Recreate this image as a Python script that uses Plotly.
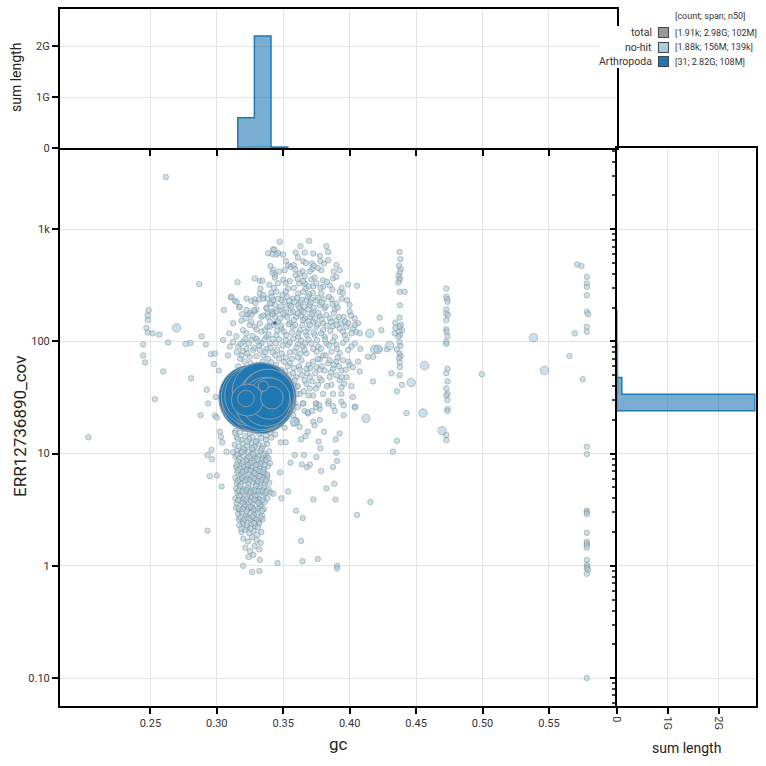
import plotly.graph_objects as go

W = H = 766
def PX(x): return x / W
def PY(y): return 1 - y / H

# ---------------- data ----------------
# no-hit contigs (gc, coverage)
nohit_left = [
    (0.2034, 14), (0.2617, 2917), (0.2867, 324), (0.3156, 337), (0.2487, 190), (0.2480, 170),
    (0.2480, 155), (0.2470, 132), (0.2480, 120), (0.2517, 118), (0.2567, 115), (0.2446, 94),
    (0.2446, 75), (0.2460, 65), (0.2634, 98), (0.2767, 95), (0.2803, 97), (0.2885, 111),
    (0.2918, 94), (0.2955, 77), (0.2978, 63), (0.3015, 55), (0.2597, 54), (0.2807, 47),
    (0.2925, 37), (0.3053, 191), (0.3106, 247), (0.2534, 30.6), (0.2993, 32), (0.2935, 28),
]
nohit_near = [
    (0.3324, 347), (0.3110, 250), (0.3136, 230), (0.3223, 241), (0.3261, 230), (0.3324, 267),
    (0.3379, 241), (0.3168, 203), (0.3236, 175), (0.3248, 180), (0.3286, 184), (0.3374, 200),
    (0.3336, 166), (0.3381, 177), (0.3123, 145), (0.3186, 153), (0.3198, 126), (0.3093, 118),
    (0.3148, 111), (0.3223, 118), (0.3248, 140), (0.3286, 135), (0.3324, 145), (0.3361, 126),
    (0.3261, 103), (0.3298, 106), (0.3336, 96), (0.3374, 110), (0.3198, 99), (0.3123, 99),
    (0.3161, 90), (0.3223, 86), (0.3273, 84), (0.3324, 84), (0.3374, 86), (0.3085, 75),
    (0.3186, 75), (0.3248, 73), (0.3298, 74), (0.3349, 75), (0.3386, 70), (0.3399, 96),
    (0.3098, 90), (0.3048, 103), (0.2985, 78),
    (0.3286, 364), (0.3344, 347), (0.3329, 297), (0.3149, 225), (0.3173, 203), (0.3224, 191),
    (0.3261, 172), (0.3299, 193), (0.3286, 237), (0.3319, 237), (0.3349, 241), (0.3374, 197),
    (0.3412, 218), (0.3424, 184), (0.3386, 166), (0.3437, 390), (0.3424, 434), (0.3404, 470),
    (0.3424, 659), (0.3386, 610), (0.3420, 600), (0.3462, 615),
    (0.3150, 80), (0.3175, 70), (0.3195, 82), (0.3210, 66), (0.3230, 78), (0.3255, 64),
    (0.3280, 88), (0.3300, 62), (0.3320, 92), (0.3345, 66), (0.3365, 80), (0.3385, 60),
    (0.3180, 95), (0.3215, 105), (0.3240, 96), (0.3270, 112), (0.3310, 100), (0.3335, 122),
    (0.3360, 104), (0.3390, 115), (0.3160, 60), (0.3400, 150), (0.3380, 135), (0.3300, 128),
    (0.3260, 150), (0.3220, 160), (0.3350, 170), (0.3280, 190), (0.3190, 175), (0.3415, 185),
    (0.3425, 235), (0.3410, 270), (0.3430, 300), (0.3395, 320), (0.3350, 260), (0.3290, 220),
]
nohit_cloud = [
    (0.3474, 771), (0.3695, 787), (0.3630, 705), (0.3825, 705), (0.3432, 659), (0.3594, 620),
    (0.3662, 620), (0.3725, 607), (0.3775, 578), (0.3838, 628), (0.3449, 594), (0.3499, 594),
    (0.3650, 518), (0.3670, 501), (0.3717, 494), (0.3730, 471), (0.3717, 440), (0.3807, 494),
    (0.3838, 529), (0.3537, 478), (0.3557, 462), (0.3579, 478), (0.3925, 431), (0.3419, 408),
    (0.3512, 431), (0.3645, 422), (0.3787, 431),
    (0.3594, 389), (0.3625, 403), (0.3662, 381), (0.3712, 356), (0.3737, 371), (0.3800, 351),
    (0.3875, 364), (0.3900, 376), (0.3437, 371), (0.3519, 333), (0.3620, 328), (0.3662, 328),
    (0.3725, 310), (0.3670, 296), (0.3800, 306), (0.3850, 317), (0.3988, 322), (0.4056, 313),
    (0.3537, 296),
    (0.3449, 277), (0.3519, 277), (0.3612, 267), (0.3650, 277), (0.3695, 264), (0.3725, 271),
    (0.3787, 267), (0.3925, 277), (0.3950, 271), (0.3487, 233), (0.3574, 241), (0.3630, 225),
    (0.3675, 233), (0.3712, 238), (0.3750, 233), (0.3805, 237), (0.3863, 238), (0.3980, 233),
    (0.3549, 211), (0.3612, 211), (0.3700, 211), (0.3775, 211), (0.3900, 218), (0.4000, 211),
    (0.3399, 218), (0.3474, 190), (0.3524, 197), (0.3574, 184), (0.3637, 190), (0.3687, 193),
    (0.3725, 184), (0.3812, 197), (0.3888, 193), (0.4000, 184), (0.3437, 166), (0.3512, 172),
    (0.3599, 166), (0.3662, 160), (0.3700, 166), (0.3775, 168), (0.3850, 160), (0.3900, 155),
    (0.3955, 166), (0.4038, 160), (0.3462, 150), (0.3549, 147), (0.3650, 155), (0.3725, 150),
    (0.3800, 145), (0.3938, 145), (0.4063, 145),
    (0.3399, 135), (0.3487, 130), (0.3574, 135), (0.3625, 126), (0.3687, 130), (0.3750, 135),
    (0.3800, 126), (0.3875, 137), (0.3925, 130), (0.3975, 135), (0.4025, 130), (0.4051, 122),
    (0.3449, 114), (0.3524, 114), (0.3612, 110), (0.3675, 114), (0.3737, 114), (0.3812, 110),
    (0.3888, 110), (0.3963, 114), (0.4013, 118), (0.4076, 118),
    (0.3537, 93), (0.3612, 95), (0.3650, 90), (0.3712, 96), (0.3762, 90), (0.3825, 96),
    (0.3900, 93), (0.3950, 97), (0.4013, 90), (0.3587, 81), (0.3675, 78), (0.3750, 81),
    (0.3800, 75), (0.3863, 81), (0.3925, 78), (0.3988, 84), (0.4138, 73),
    (0.3549, 64), (0.3637, 68), (0.3725, 66), (0.3775, 69), (0.3838, 64), (0.3900, 66),
    (0.3950, 68), (0.4000, 62), (0.3675, 57), (0.3750, 59), (0.3812, 55), (0.3875, 57),
    (0.3938, 55), (0.4076, 54), (0.4063, 66), (0.4025, 59), (0.4176, 73),
    (0.3599, 48), (0.3700, 48), (0.3775, 47), (0.3850, 48), (0.3925, 45), (0.3975, 48),
    (0.3675, 42), (0.3762, 41), (0.3863, 41), (0.3938, 39), (0.4013, 40), (0.4176, 44),
    (0.3625, 34), (0.3725, 33), (0.3800, 34), (0.3875, 34), (0.3938, 34), (0.4025, 32),
    (0.3650, 28), (0.3750, 28), (0.3838, 28), (0.3938, 29), (0.3662, 24), (0.3775, 25),
    (0.3888, 24), (0.4038, 26),
    (0.3405, 88), (0.3420, 80), (0.3440, 75), (0.3455, 84), (0.3470, 70), (0.3490, 78),
    (0.3505, 66), (0.3520, 72), (0.3535, 60), (0.3550, 80), (0.3565, 70), (0.3580, 58),
    (0.3410, 65), (0.3425, 58), (0.3445, 62), (0.3460, 52), (0.3480, 56), (0.3500, 48),
    (0.3515, 54), (0.3530, 46), (0.3545, 50), (0.3560, 44), (0.3575, 52), (0.3590, 40),
    (0.3485, 42), (0.3505, 38), (0.3520, 35), (0.3540, 36), (0.3555, 32), (0.3570, 30),
    (0.3585, 28), (0.3600, 34), (0.3610, 26), (0.3530, 27), (0.3550, 24), (0.3575, 22),
    (0.3595, 20), (0.3620, 60), (0.3640, 50), (0.3660, 45), (0.3680, 52), (0.3700, 38),
    (0.3720, 44), (0.3610, 72), (0.3630, 78), (0.3660, 84), (0.3690, 62), (0.3740, 52),
    (0.3760, 70), (0.3790, 60), (0.3820, 75), (0.3850, 68), (0.3880, 62), (0.3910, 72),
    (0.3940, 48), (0.3970, 56),
    (0.3574, 24.4), (0.3604, 19.2), (0.3649, 28), (0.3687, 22.8), (0.3750, 26), (0.3725, 19.2),
    (0.3624, 17.3), (0.3775, 19.9), (0.3599, 39), (0.3587, 45),
]
nohit_cloud_dense = [
    (0.3415, 250), (0.3440, 210), (0.3460, 240), (0.3480, 205), (0.3495, 260), (0.3510, 225),
    (0.3530, 250), (0.3545, 230), (0.3560, 205), (0.3585, 225), (0.3605, 245), (0.3620, 200),
    (0.3640, 235), (0.3660, 205), (0.3685, 250), (0.3705, 222), (0.3730, 200), (0.3760, 245),
    (0.3790, 222), (0.3820, 205), (0.3845, 250), (0.3870, 215), (0.3910, 200), (0.3940, 240),
    (0.3420, 175), (0.3450, 185), (0.3475, 160), (0.3500, 178), (0.3530, 165), (0.3555, 180),
    (0.3580, 155), (0.3610, 178), (0.3635, 170), (0.3655, 182), (0.3690, 150), (0.3715, 175),
    (0.3740, 160), (0.3765, 180), (0.3790, 158), (0.3825, 172), (0.3860, 150), (0.3880, 178),
    (0.3920, 165), (0.3965, 150), (0.4010, 170),
    (0.3430, 140), (0.3455, 125), (0.3480, 138), (0.3505, 122), (0.3540, 142), (0.3565, 120),
    (0.3590, 140), (0.3615, 118), (0.3645, 140), (0.3670, 122), (0.3700, 140), (0.3730, 120),
    (0.3760, 142), (0.3785, 118), (0.3830, 138), (0.3855, 124), (0.3900, 140), (0.3950, 122),
    (0.3990, 145), (0.4040, 140),
    (0.3420, 105), (0.3445, 96), (0.3470, 104), (0.3495, 92), (0.3520, 102), (0.3550, 98),
    (0.3575, 106), (0.3600, 88), (0.3635, 102), (0.3665, 96), (0.3690, 104), (0.3725, 86),
    (0.3755, 102), (0.3785, 86), (0.3815, 104), (0.3845, 92), (0.3875, 100), (0.3905, 86),
    (0.3975, 104), (0.4040, 96), (0.4080, 86),
    (0.3425, 48), (0.3440, 44), (0.3610, 40), (0.3655, 36), (0.3690, 33), (0.3745, 38),
    (0.3790, 45), (0.3830, 40), (0.3900, 50), (0.3960, 42), (0.3625, 56), (0.3705, 58),
    (0.3775, 56), (0.3860, 53), (0.3920, 60), (0.3990, 66),
    (0.3460, 330), (0.3500, 355), (0.3550, 345), (0.3580, 300), (0.3610, 360), (0.3650, 345),
    (0.3690, 310), (0.3750, 330), (0.3780, 300), (0.3830, 340), (0.3870, 290), (0.3940, 300),
    (0.3470, 420), (0.3590, 440), (0.3700, 420), (0.3760, 450), (0.3880, 420), (0.3520, 520),
    (0.3610, 560), (0.3780, 520), (0.3900, 480),
]
nohit_column = [
    (0.3160, 19), (0.3200, 18.5), (0.3330, 19.5), (0.3390, 18), (0.3420, 19), (0.3450, 17.5),
    (0.3480, 18.5), (0.3510, 17),
    (0.3140, 16), (0.3175, 15.5), (0.3210, 16.5), (0.3250, 15.2), (0.3290, 16.2), (0.3320, 15),
    (0.3360, 16), (0.3400, 15.5), (0.3440, 14.8),
    (0.3150, 14), (0.3185, 13.2), (0.3215, 14.3), (0.3245, 13.5), (0.3270, 14.1), (0.3300, 13),
    (0.3335, 13.8), (0.3370, 13.3), (0.3410, 13.9),
    (0.3135, 12), (0.3165, 11.6), (0.3195, 12.3), (0.3230, 11.8), (0.3260, 12.4), (0.3285, 11.5),
    (0.3315, 12.1), (0.3350, 11.7), (0.3380, 12.2),
    (0.3150, 10.6), (0.3180, 10.1), (0.3210, 10.8), (0.3240, 10.3), (0.3270, 10.9), (0.3300, 10.2),
    (0.3330, 10.7), (0.3360, 10.0), (0.3395, 10.5),
    (0.3140, 9.4), (0.3170, 9.0), (0.3200, 9.6), (0.3230, 9.1), (0.3255, 9.7), (0.3285, 9.2),
    (0.3315, 9.5), (0.3345, 9.0), (0.3375, 9.4),
    (0.3160, 8.5), (0.3190, 8.1), (0.3220, 8.7), (0.3250, 8.2), (0.3280, 8.6), (0.3310, 8.0),
    (0.3340, 8.4), (0.3370, 8.8), (0.3400, 8.2),
    (0.3145, 7.6), (0.3175, 7.3), (0.3205, 7.8), (0.3235, 7.4), (0.3265, 7.7), (0.3295, 7.2),
    (0.3325, 7.6), (0.3355, 7.3), (0.3385, 7.7),
    (0.3155, 6.8), (0.3185, 6.5), (0.3215, 7.0), (0.3245, 6.6), (0.3275, 6.9), (0.3305, 6.5),
    (0.3335, 6.8), (0.3365, 6.6),
    (0.3140, 6.1), (0.3170, 5.9), (0.3200, 6.3), (0.3230, 6.0), (0.3260, 6.2), (0.3290, 5.9),
    (0.3320, 6.3), (0.3350, 6.0), (0.3380, 6.2),
    (0.3150, 5.5), (0.3180, 5.3), (0.3210, 5.7), (0.3240, 5.4), (0.3270, 5.6), (0.3300, 5.3),
    (0.3330, 5.6), (0.3360, 5.4), (0.3395, 5.5),
    (0.3145, 4.9), (0.3175, 5.1), (0.3205, 4.8), (0.3235, 5.0), (0.3265, 4.8), (0.3295, 5.1),
    (0.3325, 4.9), (0.3355, 5.0), (0.3390, 4.8),
    (0.3155, 4.5), (0.3185, 4.3), (0.3215, 4.6), (0.3245, 4.4), (0.3275, 4.5), (0.3305, 4.3),
    (0.3335, 4.6), (0.3365, 4.4), (0.3405, 4.5), (0.3425, 4.4),
    (0.3140, 4.0), (0.3170, 4.2), (0.3200, 3.9), (0.3230, 4.1), (0.3260, 4.0), (0.3290, 4.2),
    (0.3320, 3.9), (0.3350, 4.1), (0.3380, 4.0),
    (0.3150, 3.6), (0.3180, 3.8), (0.3210, 3.5), (0.3240, 3.7), (0.3270, 3.6), (0.3300, 3.8),
    (0.3330, 3.5), (0.3360, 3.7),
    (0.3145, 3.3), (0.3175, 3.1), (0.3205, 3.4), (0.3235, 3.2), (0.3265, 3.3), (0.3295, 3.1),
    (0.3325, 3.4), (0.3355, 3.2),
    (0.3160, 2.9), (0.3190, 3.0), (0.3220, 2.8), (0.3250, 2.95), (0.3280, 2.85), (0.3310, 3.0),
    (0.3340, 2.8),
    (0.3165, 2.6), (0.3195, 2.5), (0.3225, 2.7), (0.3255, 2.55), (0.3285, 2.65), (0.3315, 2.5),
    (0.3345, 2.6),
    (0.3170, 2.3), (0.3200, 2.4), (0.3230, 2.2), (0.3260, 2.35), (0.3290, 2.25), (0.3320, 2.4),
    (0.3185, 2.0), (0.3215, 2.1), (0.3245, 1.95), (0.3275, 2.05), (0.3305, 1.9), (0.3335, 2.0),
    (0.3200, 1.75), (0.3235, 1.65), (0.3265, 1.8), (0.3300, 1.7), (0.3330, 1.6),
    (0.3215, 1.45), (0.3250, 1.35), (0.3285, 1.5), (0.3320, 1.4),
    (0.3240, 1.2), (0.3275, 1.25),
    (0.3198, 1.0), (0.3266, 0.88), (0.3320, 0.90), (0.3324, 1.13),
]
nohit_column_dense = [
    (0.3160, 13.5), (0.3200, 11), (0.3230, 12.8), (0.3265, 11.2), (0.3295, 12.7), (0.3340, 11.1),
    (0.3370, 14.5), (0.3155, 9.8), (0.3190, 10.4), (0.3245, 9.4), (0.3275, 9.9), (0.3305, 9.0),
    (0.3350, 9.7), (0.3390, 9.1), (0.3150, 8.0), (0.3200, 8.4), (0.3235, 7.9), (0.3265, 8.3),
    (0.3295, 7.9), (0.3330, 8.1), (0.3360, 7.9), (0.3160, 7.1), (0.3195, 6.9), (0.3225, 7.2),
    (0.3255, 7.1), (0.3285, 6.7), (0.3320, 7.0), (0.3350, 6.9), (0.3380, 6.5), (0.3160, 5.75),
    (0.3190, 6.05), (0.3220, 5.8), (0.3250, 5.85), (0.3280, 6.0), (0.3310, 5.7), (0.3340, 5.8),
    (0.3370, 5.75), (0.3165, 4.7), (0.3195, 4.6), (0.3225, 4.75), (0.3255, 4.6), (0.3285, 4.7),
    (0.3315, 4.65), (0.3345, 4.7), (0.3375, 4.6), (0.3160, 3.85), (0.3195, 3.65), (0.3225, 3.9),
    (0.3255, 3.8), (0.3285, 3.9), (0.3315, 3.65), (0.3345, 3.85), (0.3165, 3.25), (0.3195, 3.2),
    (0.3225, 3.05), (0.3255, 3.35), (0.3280, 3.2), (0.3310, 3.25), (0.3340, 3.1), (0.3175, 2.7),
    (0.3210, 2.6), (0.3240, 2.65), (0.3270, 2.75), (0.3300, 2.6), (0.3330, 2.7), (0.3185, 2.15),
    (0.3225, 2.3), (0.3255, 2.15), (0.3280, 2.4), (0.3310, 2.2),
]
nohit_sparse = [
    (0.3476, 6.8), (0.3537, 4.6), (0.3487, 4.0), (0.3597, 3.1), (0.3647, 2.67), (0.3634, 1.67),
    (0.3727, 3.9), (0.3825, 4.9), (0.3893, 3.9), (0.3885, 5.4), (0.3875, 7.6), (0.3785, 7.0),
    (0.3905, 8.6), (0.3900, 10.2), (0.4055, 2.84), (0.4156, 3.7), (0.4043, 26), (0.3760, 1.15),
    (0.3555, 8.3), (0.3640, 8.0), (0.3680, 7.6), (0.3700, 8.0), (0.3750, 9.3), (0.3780, 11.1),
    (0.3587, 9.7), (0.3657, 9.7), (0.3895, 13.4), (0.3767, 12.8), (0.3807, 15.7), (0.3955, 22),
    (0.3925, 15.1), (0.3737, 17.9), (0.3685, 15.7), (0.3634, 13.4), (0.3667, 14.3), (0.3519, 12.6),
    (0.3482, 12.6), (0.3580, 18.6), (0.3685, 23.3), (0.3717, 24), (0.3745, 28), (0.3843, 29.5),
    (0.3875, 26.5), (0.3955, 27), (0.3772, 27),
    (0.3457, 1.06), (0.3645, 1.1), (0.3905, 1.0), (0.3905, 0.95),
    (0.3023, 15.7), (0.3031, 14.1), (0.3073, 10.4), (0.3123, 10.3), (0.3041, 12.6), (0.2985, 21.9),
    (0.3136, 15.3), (0.2948, 6.3), (0.2930, 2.06), (0.3036, 5.1), (0.2965, 8.9), (0.2930, 9.7),
    (0.3000, 21), (0.2960, 10.8), (0.2878, 22), (0.3000, 6.4),
    (0.4226, 163), (0.4239, 126), (0.4281, 85), (0.4226, 85),
    (0.4995, 51), (0.5655, 74), (0.5695, 118), (0.5712, 485), (0.5745, 470),
]
nohit_strips = [
    (0.4376, 628), (0.4382, 541), (0.4372, 471), (0.4386, 440), (0.4378, 411), (0.4368, 384),
    (0.4380, 364), (0.4374, 351), (0.4366, 335), (0.4376, 277), (0.4414, 277), (0.4378, 210),
    (0.4376, 163), (0.4344, 147), (0.4386, 141), (0.4376, 135), (0.4344, 132), (0.4394, 126),
    (0.4372, 122), (0.4339, 118), (0.4380, 114), (0.4368, 110), (0.4376, 98), (0.4382, 91),
    (0.4356, 85), (0.4376, 78), (0.4384, 74), (0.4372, 71), (0.4376, 65), (0.4378, 59),
    (0.4314, 52), (0.4376, 50), (0.4394, 41), (0.4356, 36), (0.4427, 23), (0.4356, 13),
    (0.4326, 10.4),
    (0.4727, 296), (0.4727, 250), (0.4735, 238), (0.4737, 225), (0.4727, 193), (0.4727, 177),
    (0.4740, 172), (0.4727, 155), (0.4727, 128), (0.4730, 122), (0.4735, 111), (0.4727, 99),
    (0.4727, 95), (0.4737, 57), (0.4727, 52), (0.4737, 44), (0.4727, 38), (0.4737, 34),
    (0.4727, 33), (0.4735, 30), (0.4737, 25), (0.4735, 24), (0.4727, 14.6), (0.4727, 13.2),
    (0.5785, 376), (0.5785, 328), (0.5785, 306), (0.5785, 258), (0.5785, 184), (0.5795, 175),
    (0.5785, 135), (0.5785, 122), (0.5755, 46), (0.5785, 11.5), (0.5785, 9.9), (0.5785, 3.1),
    (0.5785, 3.0), (0.5785, 2.9), (0.5785, 1.97), (0.5785, 1.64), (0.5785, 1.58), (0.5785, 1.52),
    (0.5785, 1.45), (0.5785, 1.13), (0.5785, 1.02), (0.5790, 0.98), (0.5785, 0.95), (0.5795, 0.92),
    (0.5785, 0.85), (0.5785, 0.10),
]
nohit_large = [
    (0.2697, 132), (0.4301, 92), (0.4464, 43), (0.4564, 61), (0.4552, 23), (0.4151, 118),
    (0.4188, 85), (0.4213, 85), (0.4123, 20.6), (0.5384, 108), (0.5467, 55), (0.3583, 19.2),
    (0.4695, 16),
]

# Arthropoda contigs
arth_len_mb = [135, 132, 130, 128, 126, 124, 122, 120, 118, 116, 114, 112, 110, 108, 106, 104,
               102, 100, 98, 96, 94, 90, 86, 80, 70, 50, 30, 15, 8, 3, 0.5]
arth_gc = [0.3320, 0.3340, 0.3300, 0.3265, 0.3330, 0.3350, 0.3310, 0.3295, 0.3255, 0.3360, 0.3330,
           0.3270, 0.3325, 0.3345, 0.3315, 0.3260, 0.3355, 0.3300, 0.3365, 0.3275, 0.3330, 0.3375,
           0.3340, 0.3385, 0.3370, 0.3395, 0.3230, 0.3415, 0.3220, 0.3350, 0.3437]
arth_cov = [31.5, 32.5, 30.5, 31.0, 29.5, 31.0, 32.8, 30.0, 32.0, 32.0, 31.0, 30.0, 33.0, 30.5,
            29.0, 32.5, 33.2, 32.0, 30.0, 33.0, 36.0, 31.5, 28.5, 33.0, 29.0, 31.0, 30.0, 31.5,
            31.0, 40.0, 146]

# histograms (sum of length per bin)
top_edges_gc = [0.3158, 0.3283, 0.3408, 0.3534]
top_arth_sum = [0.60e9, 2.20e9, 0.02e9]
top_nohit_sum = [30e6, 35e6, 28e6]
right_edges_log = [1.3813, 1.5301, 1.6789, 1.8278, 1.9766, 2.1254, 2.2742]
right_arth_sum = [2.71e9, 0.10e9, 0, 0, 0, 0.0005e9]
right_nohit_sum = [10e6, 18e6, 22e6, 20e6, 0, 0]

legend_rows = [("total", "#999999", "[1.91k; 2.98G; 102M]"),
               ("no-hit", "#a6cee3", "[1.88k; 156M; 139k]"),
               ("Arthropoda", "#1f78b4", "[31; 2.82G; 108M]")]

# ---------------- figure ----------------
BLUE = "#1f78b4"
LIGHT = "#a6cee3"
FONT = "Roboto"

fig = go.Figure()

bulk = (nohit_left + nohit_near + nohit_cloud + nohit_cloud_dense + nohit_column
        + nohit_column_dense + nohit_sparse + nohit_strips)
pt_marker = dict(color="rgba(166,206,227,0.6)", line=dict(color="rgba(110,110,110,0.55)", width=0.7))
fig.add_trace(go.Scatter(
    x=[p[0] for p in bulk], y=[p[1] for p in bulk], mode="markers",
    marker=dict(pt_marker, size=5.5),
    xaxis="x", yaxis="y", showlegend=False, hoverinfo="skip"))
fig.add_trace(go.Scatter(
    x=[p[0] for p in nohit_large], y=[p[1] for p in nohit_large], mode="markers",
    marker=dict(pt_marker, size=8.5),
    xaxis="x", yaxis="y", showlegend=False, hoverinfo="skip"))

maxlen = max(arth_len_mb)
fig.add_trace(go.Scatter(
    x=arth_gc, y=arth_cov, mode="markers",
    marker=dict(size=[68 * (l / maxlen) ** 0.5 for l in arth_len_mb], color=BLUE,
                line=dict(color="#a3a3a3", width=0.8), opacity=1),
    xaxis="x", yaxis="y", showlegend=False, hoverinfo="skip"))


def step(edges, vals):
    xs, ys = [edges[0]], [0]
    for i, v in enumerate(vals):
        xs += [edges[i], edges[i + 1]]
        ys += [v, v]
    xs.append(edges[-1]); ys.append(0)
    return xs, ys


for vals, line, fill in [(top_nohit_sum, LIGHT, "rgba(166,206,227,0.6)"),
                         (top_arth_sum, BLUE, "rgba(31,120,180,0.6)")]:
    xs, ys = step(top_edges_gc, vals)
    fig.add_trace(go.Scatter(x=xs, y=ys, mode="lines", fill="toself", fillcolor=fill,
                             line=dict(color=line, width=1.5), xaxis="x2", yaxis="y2",
                             showlegend=False, hoverinfo="skip"))

right_edges_cov = [10 ** e for e in right_edges_log]
for vals, line, fill in [(right_nohit_sum, LIGHT, "rgba(166,206,227,0.6)"),
                         (right_arth_sum, BLUE, "rgba(31,120,180,0.6)")]:
    ys, xs = step(right_edges_cov, vals)
    fig.add_trace(go.Scatter(x=xs, y=ys, mode="lines", fill="toself", fillcolor=fill,
                             line=dict(color=line, width=1.5), xaxis="x3", yaxis="y3",
                             showlegend=False, hoverinfo="skip"))

tickfont = dict(family=FONT, size=11, color="#333333")
common = dict(showline=True, linecolor="black", linewidth=2, mirror=True, automargin=False,
              ticks="outside", ticklen=6, tickwidth=1.5, tickcolor="black",
              gridcolor="#e4e4e4", gridwidth=1, zeroline=False, tickfont=tickfont)

gc_ticks = [0.25, 0.30, 0.35, 0.40, 0.45, 0.50, 0.55]
gc_ticktext = ["0.25", "0.30", "0.35", "0.40", "0.45", "0.50", "0.55"]
cov_ticks = [0.1, 1, 10, 100, 1000]
cov_ticktext = ["0.10", "1", "10", "100", "1k"]
len_ticks = [0, 1e9, 2e9]
len_ticktext = ["0", "1G", "2G"]
minor_vals = [m * d for d in [0.01, 0.1, 1, 10, 100, 1000] for m in range(2, 10)]

xdom = [PX(60), PX(616.7)]
ydom = [PY(706), PY(148.3)]
ytop = [PY(148.3), PY(9.3)]
xright = [PX(616.7), PX(755.7)]
xr = [0.182, 0.601]
yr = [-1.249, 3.721]
lr = [0, 2.725e9]

fig.update_layout(
    template="none",
    width=W, height=H, margin=dict(l=0, r=0, t=0, b=0, pad=0),
    paper_bgcolor="white", plot_bgcolor="white", showlegend=False,
    font=dict(family=FONT, color="#333333"),
    xaxis=dict(common, domain=xdom, range=xr, anchor="y", tickvals=gc_ticks,
               ticktext=gc_ticktext, mirror=False),
    yaxis=dict(common, domain=ydom, type="log", range=yr, anchor="x",
               tickvals=cov_ticks, ticktext=cov_ticktext, mirror=False),
    xaxis2=dict(common, domain=xdom, range=xr, anchor="y2", tickvals=gc_ticks,
                showticklabels=False),
    yaxis2=dict(common, domain=ytop, range=lr, anchor="x2", tickvals=len_ticks,
                ticktext=len_ticktext),
    xaxis3=dict(common, domain=xright, range=lr, anchor="y3", tickvals=len_ticks,
                ticktext=len_ticktext, tickangle=90),
    yaxis3=dict(common, domain=ydom, type="log", range=yr, anchor="x3", tickvals=cov_ticks,
                showticklabels=False, ticklen=5,
                minor=dict(tickvals=minor_vals, ticks="outside", ticklen=3,
                           tickcolor="#444444", showgrid=False)),
)

ann = []
# white backdrop for legend block (drawn first so texts sit above it)
ann.append(dict(text="", x=PX(683), y=PY(47), width=164, height=40, bgcolor="white",
                borderwidth=0))
ann.append(dict(text="ERR12736890_cov", x=PX(20), y=PY(427), textangle=-90,
                font=dict(family=FONT, size=17, color="#222222")))
ann.append(dict(text="sum length", x=PX(16), y=PY(78), textangle=-90,
                font=dict(family=FONT, size=14, color="#222222")))
ann.append(dict(text="gc", x=PX(338), y=PY(744),
                font=dict(family=FONT, size=17, color="#222222")))
ann.append(dict(text="sum length", x=PX(686), y=PY(748),
                font=dict(family=FONT, size=14, color="#222222")))
ann.append(dict(text="[count; span; n50]", x=PX(672.5), y=PY(15.7), xanchor="left",
                font=dict(family=FONT, size=9, color="#333333")))

shapes = []
row_y = [32.5, 47.5, 61.5]
for (label, color, stats), yy in zip(legend_rows, row_y):
    ann.append(dict(text=label, x=PX(654), y=PY(yy), xanchor="right",
                    font=dict(family=FONT, size=10.5, color="#333333")))
    ann.append(dict(text=stats, x=PX(672.5), y=PY(yy), xanchor="left",
                    font=dict(family=FONT, size=9, color="#333333")))
    # swatch drawn as an annotation box so it sits above the white backdrop
    ann.append(dict(text="", x=PX(663.4), y=PY(yy), width=9, height=9, bgcolor=color,
                    bordercolor="#444444", borderwidth=1, borderpad=0))

for a in ann:
    a.update(xref="paper", yref="paper", showarrow=False)
    a.setdefault("xanchor", "center")
    a.setdefault("yanchor", "middle")

fig.update_layout(annotations=ann, shapes=shapes)
fig.write_html("out.html")
